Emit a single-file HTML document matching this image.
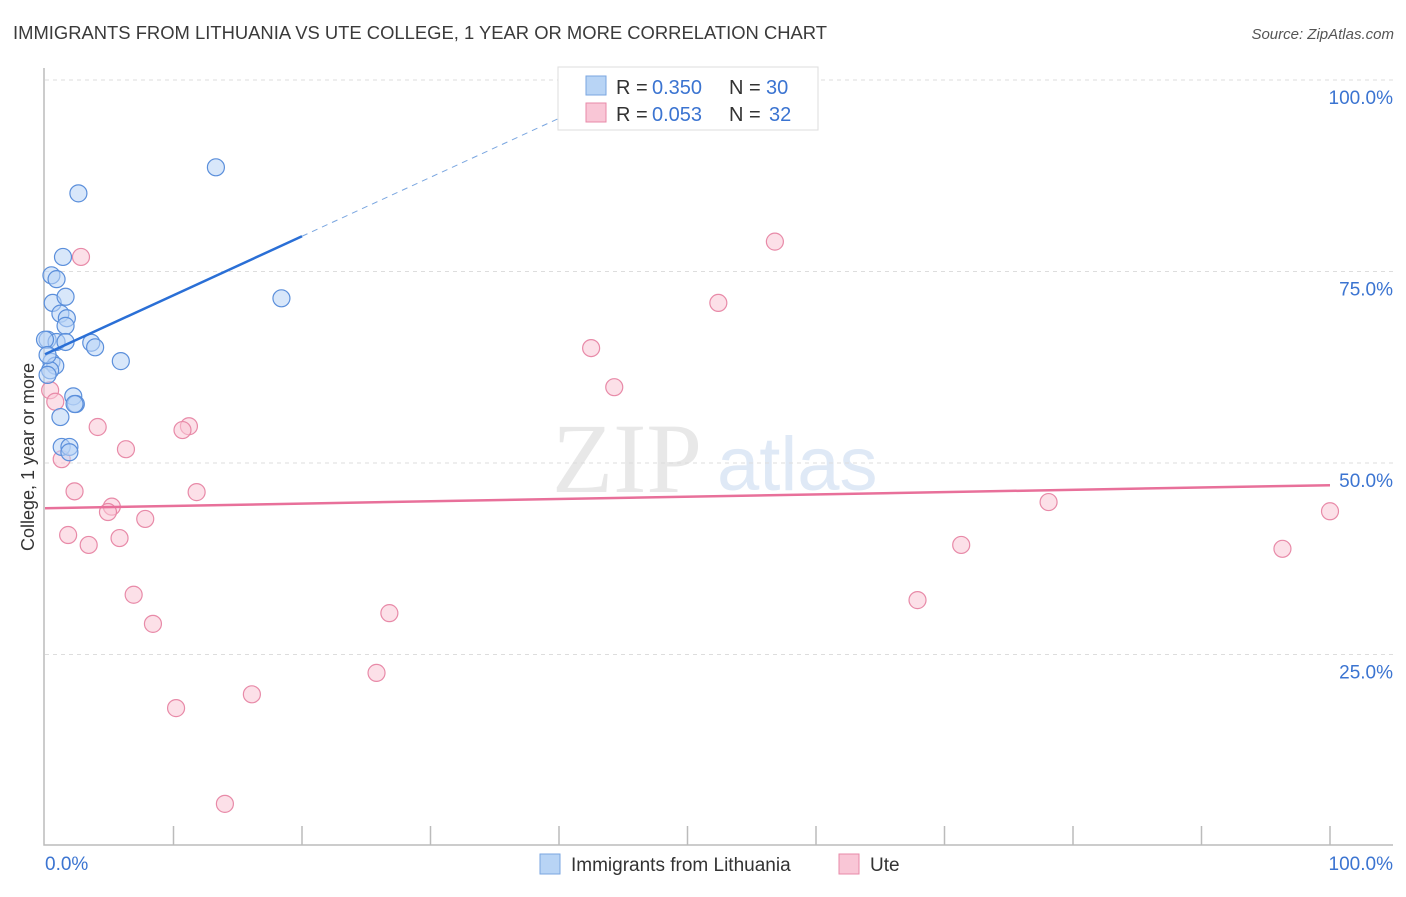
<!DOCTYPE html>
<html><head><meta charset="utf-8">
<style>
body{margin:0;background:#fff;font-family:"Liberation Sans",sans-serif;}
svg text{font-family:"Liberation Sans",sans-serif;}
</style></head>
<body>
<svg id="chart" width="1406" height="892" xmlns="http://www.w3.org/2000/svg">
<text x="13" y="39" font-size="18" fill="#3a3a3a" textLength="814" lengthAdjust="spacingAndGlyphs">IMMIGRANTS FROM LITHUANIA VS UTE COLLEGE, 1 YEAR OR MORE CORRELATION CHART</text>
<text x="1394" y="39" font-size="15" fill="#555" text-anchor="end" font-style="italic">Source: ZipAtlas.com</text>
<g>
<text x="552" y="492" font-size="100" fill="#e8e8e8" style="font-family:'Liberation Serif',serif">ZIP</text>
<text x="717" y="490" font-size="76" fill="#dfe9f6">atlas</text>
</g>
<g id="grid"></g>
<g id="axes"></g>
<g id="marks"></g>
<text transform="translate(34,457) rotate(-90)" font-size="18" fill="#333" text-anchor="middle">College, 1 year or more</text>
<g>
<rect x="558" y="67" width="260" height="63" fill="#fff" stroke="#ddd"/>
<rect x="586" y="76" width="20" height="19" fill="#b8d4f5" stroke="#7aa6e0"/>
<rect x="586" y="103" width="20" height="19" fill="#f9c6d6" stroke="#e88aa8"/>
<text x="616" y="94" font-size="20" fill="#333">R =</text>
<text x="652" y="94" font-size="20" fill="#3b74d1">0.350</text>
<text x="729" y="94" font-size="20" fill="#333">N =</text>
<text x="766" y="94" font-size="20" fill="#3b74d1">30</text>
<text x="616" y="121" font-size="20" fill="#333">R =</text>
<text x="652" y="121" font-size="20" fill="#3b74d1">0.053</text>
<text x="729" y="121" font-size="20" fill="#333">N =</text>
<text x="769" y="121" font-size="20" fill="#3b74d1">32</text>
</g>
<g>
<rect x="540" y="854" width="20" height="20" fill="#b8d4f5" stroke="#7aa6e0"/>
<text x="571" y="871" font-size="19" fill="#333">Immigrants from Lithuania</text>
<rect x="839" y="854" width="20" height="20" fill="#f9c6d6" stroke="#e88aa8"/>
<text x="870" y="871" font-size="19" fill="#333">Ute</text>
</g>
</svg>
<script>
const blueX=[13.3,2.6,1.4,0.5,0.9,0.6,1.6,1.2,1.7,1.6,0.2,0.9,1.6,3.6,3.9,5.9,0.5,0.8,0.4,0.2,2.2,2.4,2.3,1.2,1.3,1.9,1.9,18.4,0,0.2];
const blueY=[88.6,85.2,76.9,74.5,74.0,70.9,71.7,69.5,68.9,67.9,66.1,65.8,65.8,65.7,65.1,63.3,63.2,62.7,62.1,61.5,58.7,57.7,57.7,56.0,52.1,52.1,51.4,71.5,66.1,64.1];
const pinkX=[2.8,56.8,52.4,42.5,44.3,0.4,0.8,4.1,11.2,10.7,6.3,1.3,2.3,11.8,78.1,5.2,4.9,100,7.8,5.8,1.8,3.4,71.3,96.3,6.9,67.9,26.8,8.4,25.8,16.1,10.2,14.0];
const pinkY=[76.9,78.9,70.9,65.0,59.9,59.5,58.0,54.7,54.8,54.3,51.8,50.5,46.3,46.2,44.9,44.3,43.6,43.7,42.7,40.2,40.6,39.3,39.3,38.8,32.8,32.1,30.4,29.0,22.6,19.8,18.0,5.5];
const blueTrend=[64.2,79.6];
const pinkTrend=[44.1,47.1];
const yTicks=[25,50,75,100];
const yTickLabels=["25.0%","50.0%","75.0%","100.0%"];
const xTickCount=10;
const NS="http://www.w3.org/2000/svg";
const X=v=>45+v*12.85, Y=v=>846-v*7.66;
function mk(t,a,p){const e=document.createElementNS(NS,t);for(const k in a)e.setAttribute(k,a[k]);p.appendChild(e);return e;}
const grid=document.getElementById('grid'),axes=document.getElementById('axes'),marks=document.getElementById('marks');
yTicks.forEach((v,i)=>{
 const l=mk('line',{x1:45,x2:1393,y1:Y(v),y2:Y(v),stroke:'#ddd','stroke-dasharray':'4,4'},grid);
 
 
 const t=mk('text',{x:1393,y:Y(v)+24,'font-size':19,fill:'#3b74d1','text-anchor':'end'},axes);
 t.textContent=yTickLabels[i];
 
 
});
const ax=mk('path',{d:'M44 68 V845 H1393',fill:'none',stroke:'#bbb','stroke-width':1.5},axes);


for(let i=1;i<=xTickCount;i++){
 const tk=mk('line',{x1:X(i*10),x2:X(i*10),y1:826,y2:845,stroke:'#bbb','stroke-width':1.5},axes);
 
 
}
const x0=mk('text',{x:45,y:870,'font-size':19,fill:'#3b74d1'},axes);x0.textContent='0.0%';


const x1=mk('text',{x:1393,y:870,'font-size':19,fill:'#3b74d1','text-anchor':'end'},axes);x1.textContent='100.0%';


function pts(xs,ys,fill,stroke,name){xs.forEach((x,i)=>{
 const c=mk('circle',{cx:X(x),cy:Y(ys[i]),r:8.5,fill:fill,'fill-opacity':0.55,stroke:stroke,'stroke-width':1.2},marks);
 
 
});}
pts(pinkX,pinkY,'#f9c6d6','#e88aa8','ute-point');
pts(blueX,blueY,'#b8d4f5','#5b8fdb','lithuania-point');
const s=(blueTrend[1]-blueTrend[0])/20;
const bl=mk('line',{x1:X(0),y1:Y(blueTrend[0]),x2:X(20),y2:Y(blueTrend[1]),stroke:'#2a6fd6','stroke-width':2.5},marks);


const bd=mk('line',{x1:X(20),y1:Y(blueTrend[1]),x2:X(40),y2:Y(blueTrend[0]+s*40),stroke:'#7aa6e0','stroke-width':1,'stroke-dasharray':'6,5'},marks);


const pl=mk('line',{x1:X(0),y1:Y(pinkTrend[0]),x2:X(100),y2:Y(pinkTrend[1]),stroke:'#e8709a','stroke-width':2.5},marks);


</script>
</body></html>
